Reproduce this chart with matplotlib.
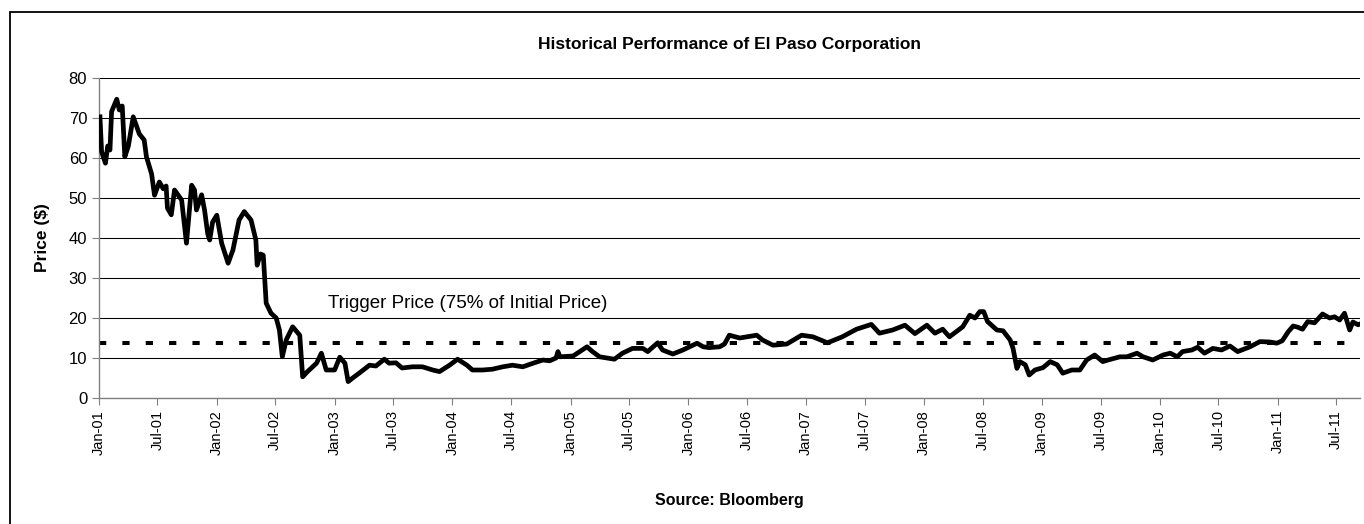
import matplotlib
matplotlib.use("Agg")
import matplotlib.pyplot as plt
import matplotlib.dates as mdates
from matplotlib.patches import Rectangle
import numpy as np
import pandas as pd

plt.rcParams['font.family'] = ['Liberation Sans', 'DejaVu Sans']

# ---- data ----
dates = [
    "2001-01-04", "2001-01-09", "2001-01-21", "2001-01-28", "2001-02-04", "2001-02-09",
    "2001-02-25", "2001-03-05", "2001-03-14", "2001-03-22", "2001-04-02", "2001-04-17",
    "2001-05-06", "2001-05-21", "2001-05-28", "2001-06-13", "2001-06-22", "2001-07-07",
    "2001-07-19", "2001-07-28", "2001-08-01", "2001-08-13", "2001-08-23", "2001-09-14",
    "2001-09-29", "2001-10-15", "2001-10-24", "2001-10-30", "2001-11-15", "2001-11-24",
    "2001-12-04", "2001-12-10", "2001-12-19", "2002-01-01", "2002-01-16", "2002-02-05",
    "2002-02-20", "2002-03-11", "2002-03-27", "2002-04-17", "2002-05-02", "2002-05-06",
    "2002-05-16", "2002-05-25", "2002-06-03", "2002-06-18", "2002-07-04", "2002-07-14",
    "2002-07-23", "2002-08-04", "2002-08-24", "2002-09-15", "2002-09-24", "2002-10-09",
    "2002-11-06", "2002-11-21", "2002-12-06", "2003-01-01", "2003-01-17", "2003-02-02",
    "2003-02-12", "2003-02-26", "2003-03-18", "2003-04-19", "2003-05-09", "2003-06-04",
    "2003-06-19", "2003-07-10", "2003-07-29", "2003-08-30", "2003-09-30", "2003-11-01",
    "2003-11-22", "2003-12-23", "2004-01-17", "2004-02-15", "2004-03-03", "2004-04-04",
    "2004-05-04", "2004-06-05", "2004-07-05", "2004-08-06", "2004-09-07", "2004-10-07",
    "2004-10-28", "2004-11-17", "2004-11-23", "2004-11-29", "2005-01-09", "2005-02-21",
    "2005-03-10", "2005-04-01", "2005-05-17", "2005-06-11", "2005-07-12", "2005-08-13",
    "2005-08-28", "2005-09-28", "2005-10-13", "2005-11-14", "2005-12-15", "2006-01-28",
    "2006-02-16", "2006-03-07", "2006-04-08", "2006-04-23", "2006-05-08", "2006-06-09",
    "2006-08-01", "2006-08-19", "2006-09-20", "2006-11-02", "2006-12-18", "2007-01-22",
    "2007-03-08", "2007-04-23", "2007-06-06", "2007-07-22", "2007-08-16", "2007-09-26",
    "2007-11-03", "2007-12-04", "2008-01-10", "2008-02-04", "2008-02-28", "2008-03-20",
    "2008-04-30", "2008-05-22", "2008-06-07", "2008-06-22", "2008-07-04", "2008-07-16",
    "2008-08-14", "2008-09-02", "2008-09-24", "2008-10-03", "2008-10-15", "2008-10-24",
    "2008-11-10", "2008-11-22", "2008-12-10", "2009-01-04", "2009-01-26", "2009-02-17",
    "2009-03-06", "2009-04-03", "2009-04-28", "2009-05-19", "2009-06-13", "2009-07-08",
    "2009-07-29", "2009-08-30", "2009-09-21", "2009-10-22", "2009-11-10", "2009-12-10",
    "2010-01-11", "2010-02-02", "2010-02-24", "2010-03-12", "2010-04-10", "2010-04-28",
    "2010-05-19", "2010-06-14", "2010-07-11", "2010-08-06", "2010-08-30", "2010-10-07",
    "2010-11-07", "2010-12-08", "2010-12-29", "2011-01-15", "2011-02-03", "2011-02-18",
    "2011-03-04", "2011-03-19", "2011-04-04", "2011-04-25", "2011-05-20", "2011-06-11",
    "2011-06-26", "2011-07-12", "2011-07-27", "2011-08-12", "2011-08-22", "2011-09-07",
    "2011-09-13",
]
prices = [
    70.3, 61.6, 58.7, 63.0, 62.0, 71.6,
    74.7, 72.0, 73.0, 60.3, 63.0, 70.3,
    66.0, 64.5, 60.3, 56.0, 50.7, 54.0,
    52.3, 53.0, 47.5, 45.8, 52.0, 49.5,
    38.7, 53.2, 52.0, 47.0, 50.8, 47.0,
    41.0, 39.5, 44.0, 45.7, 38.7, 33.7,
    37.0, 44.5, 46.6, 44.5, 39.5, 33.2,
    36.0, 35.7, 23.7, 21.2, 20.0, 17.0,
    10.3, 14.5, 17.8, 15.7, 5.3, 6.6,
    8.7, 11.2, 7.0, 7.0, 10.2, 8.7,
    4.1, 5.0, 6.2, 8.2, 8.0, 9.7,
    8.7, 8.8, 7.5, 7.8, 7.8, 7.0,
    6.6, 8.2, 9.7, 8.2, 7.0, 7.0,
    7.2, 7.8, 8.2, 7.8, 8.7, 9.5,
    9.3, 10.0, 11.6, 10.3, 10.5, 12.8,
    11.6, 10.3, 9.7, 11.2, 12.4, 12.4,
    11.6, 13.8, 12.0, 11.0, 12.0, 13.7,
    12.8, 12.6, 12.8, 13.5, 15.7, 15.0,
    15.7, 14.5, 13.2, 13.5, 15.7, 15.3,
    13.8, 15.3, 17.2, 18.4, 16.2, 17.0,
    18.2, 16.1, 18.2, 16.2, 17.2, 15.3,
    17.8, 20.7, 20.0, 21.6, 21.6, 19.1,
    17.0, 16.8, 14.5, 12.4, 7.4, 9.1,
    8.3, 5.75, 7.0, 7.6, 9.1, 8.3,
    6.2, 7.0, 7.0, 9.5, 10.75, 9.1,
    9.6, 10.3, 10.3, 11.2, 10.3, 9.5,
    10.75, 11.2, 10.3, 11.6, 12.0, 12.7,
    11.2, 12.4, 12.0, 13.0, 11.6, 12.8,
    14.1, 14.0, 13.7, 14.3, 16.6, 18.0,
    17.7, 17.2, 19.1, 18.8, 21.0, 20.0,
    20.3, 19.5, 21.2, 17.0, 19.0, 18.3,
    18.5,
]
trigger_price = 13.8
trigger_label = "Trigger Price (75% of Initial Price)"
x_start = "2001-01-01"

df = pd.DataFrame({"date": pd.to_datetime(dates), "price": prices})

fig = plt.figure(figsize=(13.64, 5.24), dpi=100)
ax = fig.add_axes([99 / 1364, 1 - 398 / 524, (1360 - 99) / 1364, (398 - 78) / 524])

# outer chart-area border (Excel style)
fig.patches.append(Rectangle((10 / 1364, -0.1), 1.2, 1 - 12 / 524 + 0.1,
                             transform=fig.transFigure, fill=False,
                             edgecolor='black', lw=1.3, clip_on=False))

ax.plot(df["date"], df["price"], color='black', lw=3.4, solid_joinstyle='round', zorder=3)
ax.axhline(trigger_price, color='black', lw=2.9, dashes=(1.8, 4.0), zorder=2)
ax.text(pd.Timestamp("2002-12-10"), 23.7, trigger_label, fontsize=13.5, va='center', ha='left')

ax.set_ylim(0, 80)
ax.set_yticks(np.arange(0, 81, 10))
ax.set_xlim(pd.Timestamp(x_start), df["date"].iloc[-1])
ax.xaxis.set_major_locator(mdates.MonthLocator(bymonth=[1, 7]))
ax.xaxis.set_major_formatter(mdates.DateFormatter('%b-%y'))

ax.grid(axis='y', color='black', lw=0.75)
ax.set_axisbelow(True)
for s in ['top', 'right']:
    ax.spines[s].set_visible(False)
for s in ['left', 'bottom']:
    ax.spines[s].set_color('#808080')
    ax.spines[s].set_linewidth(1.0)
ax.tick_params(axis='both', colors='#808080', length=5, labelcolor='black')
ax.tick_params(axis='y', labelsize=12)
ax.tick_params(axis='x', labelsize=10.5)
plt.setp(ax.get_xticklabels(), rotation=90, ha='center')

fig.text(729 / 1364, 1 - 45 / 524, "Historical Performance of El Paso Corporation",
         ha='center', va='center', fontsize=12.5, fontweight='bold')
fig.text(43 / 1364, 1 - 238 / 524, "Price ($)", rotation=90,
         ha='center', va='center', fontsize=12.5, fontweight='bold')
fig.text(729 / 1364, 1 - 500 / 524, "Source: Bloomberg",
         ha='center', va='center', fontsize=11.5, fontweight='bold')

fig.savefig("out.png", dpi=100)
